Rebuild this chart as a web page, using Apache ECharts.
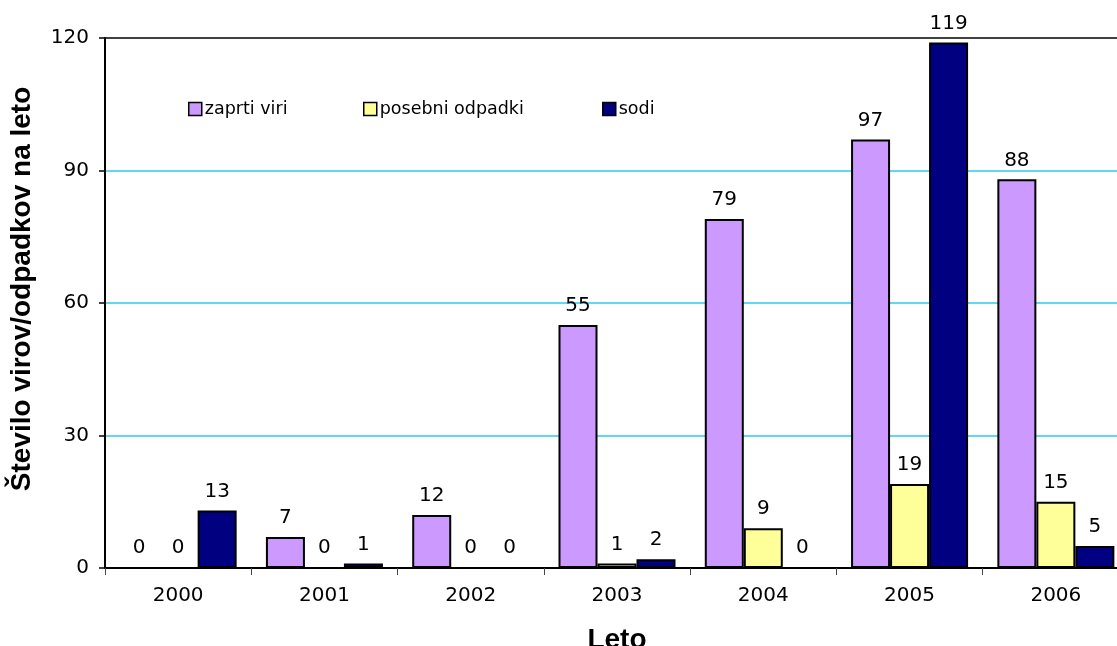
<!DOCTYPE html>
<html>
<head>
<meta charset="utf-8">
<script src="https://cdn.jsdelivr.net/npm/echarts@6/dist/echarts.min.js"></script>
<style>html,body{margin:0;padding:0;background:#fff}#c{width:1117px;height:646px}</style>
</head>
<body>
<div id="c"></div>
<script>
const categories = ['2000','2001','2002','2003','2004','2005','2006'];
const zaprtiViri = [0, 7, 12, 55, 79, 97, 88];
const posebniOdpadki = [0, 0, 0, 1, 9, 19, 15];
const sodi = [13, 1, 0, 2, 0, 119, 5];
const seriesNames = ['zaprti viri', 'posebni odpadki', 'sodi'];
const yTicks = [0, 30, 60, 90, 120];

const chart = echarts.init(document.getElementById('c'), null, {renderer: 'canvas'});
const lbl = {show: true, position: 'top', distance: 9, fontFamily: 'DejaVu Sans', fontSize: 20, color: '#000'};
const mk = (name, data, color) => ({
  name, type: 'bar', data, barWidth: 39, barGap: '0%',
  itemStyle: {color, borderColor: '#000', borderWidth: 2},
  label: lbl, animation: false
});
const legendBase = {top: 95, icon: 'rect', itemWidth: 13, itemHeight: 13, itemGap: 0,
  itemStyle: {borderColor: '#000', borderWidth: 1.5},
  textStyle: {fontFamily: 'DejaVu Sans', fontSize: 17.5, color: '#000', padding: [0,0,0,-2]}};
chart.setOption({
  animation: false,
  backgroundColor: '#fff',
  grid: {left: 105, top: 38, width: 1024, height: 530, containLabel: false, outerBoundsMode: 'none'},
  legend: [
    Object.assign({}, legendBase, {left: 183, data: [seriesNames[0]]}),
    Object.assign({}, legendBase, {left: 358, data: [seriesNames[1]]}),
    Object.assign({}, legendBase, {left: 597, data: [seriesNames[2]]})
  ],
  xAxis: {
    type: 'category', data: categories,
    axisLine: {lineStyle: {color: '#000', width: 2}},
    axisTick: {show: true, length: 7, lineStyle: {color: '#444', width: 1}},
    axisLabel: {margin: 18, fontFamily: 'DejaVu Sans', fontSize: 20, color: '#000'},
    name: 'Leto', nameLocation: 'middle', nameGap: 58,
    nameTextStyle: {fontFamily: 'Liberation Sans', fontWeight: 'bold', fontSize: 28, color: '#000'}
  },
  yAxis: {
    type: 'value', min: yTicks[0], max: yTicks[yTicks.length - 1], interval: 30,
    axisLine: {show: true, lineStyle: {color: '#000', width: 2}},
    axisTick: {show: true, length: 6, lineStyle: {color: '#000', width: 1.5}},
    axisLabel: {margin: 16, fontFamily: 'DejaVu Sans', fontSize: 20, color: '#000'},
    splitLine: {show: true, lineStyle: {color: ['#000', '#2ccaf0', '#2ccaf0', '#2ccaf0', '#000'], width: 1.5}},
    name: 'Število virov/odpadkov na leto', nameLocation: 'middle', nameGap: 69, nameRotate: 90,
    nameTextStyle: {fontFamily: 'Liberation Sans', fontWeight: 'bold', fontSize: 28, color: '#000', padding: [0, 0, 0, 28]}
  },
  series: [
    mk(seriesNames[0], zaprtiViri, '#CC99FF'),
    mk(seriesNames[1], posebniOdpadki, '#FFFF99'),
    mk(seriesNames[2], sodi, '#000080')
  ]
});
</script>
</body>
</html>
